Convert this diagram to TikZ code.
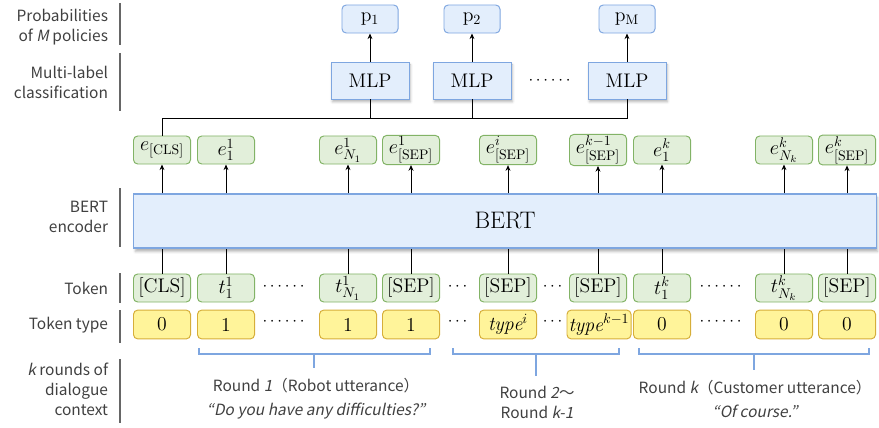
\documentclass[tikz,border=0pt]{standalone}
\usepackage{amsmath}
\usepackage{xcolor}
\usepackage{fontspec}
\usepackage{tikz}
\usetikzlibrary{arrows.meta}
\usetikzlibrary{shadows.blur}
\newfontfamily\labelfont{Noto Sans CJK JP}[ItalicFont=Noto Sans CJK JP, ItalicFeatures={FakeSlant=0.2}]
\definecolor{boxblue}{HTML}{E3EEFC}
\definecolor{lineblue}{HTML}{7EA6E0}
\definecolor{boxgreen}{HTML}{E2EFDA}
\definecolor{linegreen}{HTML}{82B366}
\definecolor{boxyellow}{HTML}{FFF49A}
\definecolor{lineyellow}{HTML}{D6AE3A}
\definecolor{labelgray}{HTML}{404040}

\begin{document}
\begin{tikzpicture}[x=0.025cm, y=-0.025cm,
  gbox/.style={draw=linegreen, fill=boxgreen, line width=0.7pt, rounded corners=3pt, minimum width=1.425cm, minimum height=0.7cm, inner sep=1pt, font=\fontsize{14}{16}\selectfont},
  ybox/.style={draw=lineyellow, fill=boxyellow, line width=0.7pt, rounded corners=3pt, minimum width=1.425cm, minimum height=0.72cm, inner sep=1pt, font=\fontsize{14}{16}\selectfont},
  pbox/.style={draw=lineblue, fill=boxblue, line width=0.7pt, rounded corners=3pt, minimum width=1.4cm, minimum height=0.7cm, font=\fontsize{14}{16}\selectfont},
  mlpbox/.style={draw=lineblue, fill=boxblue, line width=0.7pt, minimum width=1.95cm, minimum height=0.925cm, font=\fontsize{14}{16}\selectfont, blur shadow={shadow xshift=1pt, shadow yshift=-2pt, shadow opacity=30}},
  lbl/.style={anchor=east, align=right, text=labelgray, font=\labelfont\fontsize{11}{14.2}\selectfont},
  rnd/.style={align=center, text=labelgray, font=\labelfont\fontsize{11}{14.2}\selectfont},
  bar/.style={draw=labelgray!80, line width=1pt},
  brk/.style={draw=lineblue, line width=0.8pt},
  wire/.style={line width=0.6pt},
  arr/.style={-{Stealth[length=4pt,width=3.5pt]}, line width=0.6pt}]
  \useasboundingbox (0,0) rectangle (879,427);

  % row titles on the left
  \node[lbl] (lprob) at (113,27) {Probabilities\\of \textit{M} policies};
  \node[lbl] (lmlc) at (113,82) {Multi-label\\classification};
  \node[lbl] (lbert) at (113,217) {BERT\\encoder};
  \node[lbl] (ltok) at (113,288) {Token};
  \node[lbl] (ltype) at (113,325) {Token type};
  \node[lbl] (lctx) at (113,389) {\textit{k} rounds of\\dialogue\\context};
  \draw[bar] (120,3) -- (120,45);
  \draw[bar] (120,53) -- (120,111);
  \draw[bar] (120,188) -- (120,247);
  \draw[bar] (120,273) -- (120,303);
  \draw[bar] (120,310) -- (120,343);
  \draw[bar] (120,359) -- (120,423);

  % policy outputs
  \node[pbox] (p1) at (370,19) {$\mathrm{p}_1$};
  \node[pbox] (p2) at (472,19) {$\mathrm{p}_2$};
  \node[pbox] (pM) at (627,19) {$\mathrm{p}_\mathrm{M}$};
  \node[mlpbox] (mlp1) at (370,80.5) {MLP};
  \node[mlpbox] (mlp2) at (472,80.5) {MLP};
  \node[mlpbox] (mlpM) at (627,80.5) {MLP};
  \node[font=\large] (mdots) at (551,81) {$\cdots\cdots$};

  % encoder
  \node[draw=lineblue, fill=boxblue, line width=0.8pt, minimum width=18.55cm, minimum height=1.35cm, font=\fontsize{17}{20}\selectfont, blur shadow={shadow xshift=1pt, shadow yshift=-2.5pt, shadow opacity=30}] (bert) at (505,221) {BERT};

  % embeddings
  \node[gbox] (ecls) at (162,150) {$e_{\mathrm{[CLS]}}$};
  \node[gbox] (e11) at (226,150) {$e^1_1$};
  \node[gbox] (en1) at (348,150) {$e^1_{N_1}$};
  \node[gbox] (esep1) at (411,150) {$e^1_{\mathrm{[SEP]}}$};
  \node[gbox] (esepi) at (508,150) {$e^i_{\mathrm{[SEP]}}$};
  \node[gbox] (esepk1) at (598,150) {$e^{k-1}_{\mathrm{[SEP]}}$};
  \node[gbox] (e1k) at (662,150) {$e^k_1$};
  \node[gbox] (enk) at (784,150) {$e^k_{N_k}$};
  \node[gbox] (esepk) at (847,150) {$e^k_{\mathrm{[SEP]}}$};

  % tokens
  \node[gbox] (tcls) at (162,288) {[CLS]};
  \node[gbox] (t11) at (226,288) {$t^1_1$};
  \node[gbox] (tn1) at (348,288) {$t^1_{N_1}$};
  \node[gbox] (tsep1) at (411,288) {[SEP]};
  \node[gbox] (tsepi) at (508,288) {[SEP]};
  \node[gbox] (tsepk1) at (598,288) {[SEP]};
  \node[gbox] (t1k) at (662,288) {$t^k_1$};
  \node[gbox] (tnk) at (784,288) {$t^k_{N_k}$};
  \node[gbox] (tsepk) at (847,288) {[SEP]};
  \node[font=\large] (tdots1) at (285,287) {$\cdots\cdots$};
  \node[font=\large] (tdots2) at (459,287) {$\cdots$};
  \node[font=\large] (tdots3) at (554,287) {$\cdots$};
  \node[font=\large] (tdots4) at (722,287) {$\cdots\cdots$};

  % token types
  \node[ybox] (ycls) at (162,324.5) {0};
  \node[ybox] (y11) at (226,324.5) {1};
  \node[ybox] (yn1) at (348,324.5) {1};
  \node[ybox] (ysep1) at (411,324.5) {1};
  \node[ybox] (ysepi) at (508,324.5) {$\mathit{type}^{i}$};
  \node[ybox, minimum width=1.6cm] (ysepk1) at (599,324.5) {$\mathit{type}^{k-1}$};
  \node[ybox] (y1k) at (662,324.5) {0};
  \node[ybox] (ynk) at (784,324.5) {0};
  \node[ybox] (ysepk) at (847,324.5) {0};
  \node[font=\large] (ydots1) at (285,322) {$\cdots\cdots$};
  \node[font=\large] (ydots2) at (459,322) {$\cdots$};
  \node[font=\large] (ydots3) at (554,322) {$\cdots$};
  \node[font=\large] (ydots4) at (722,322) {$\cdots\cdots$};

  % tokens into the encoder, embeddings out of it
  \draw[wire] (tcls) -- (tcls |- bert.south);
  \draw[wire] (t11) -- (t11 |- bert.south);
  \draw[wire] (tn1) -- (tn1 |- bert.south);
  \draw[wire] (tsep1) -- (tsep1 |- bert.south);
  \draw[wire] (tsepi) -- (tsepi |- bert.south);
  \draw[wire] (tsepk1) -- (tsepk1 |- bert.south);
  \draw[wire] (t1k) -- (t1k |- bert.south);
  \draw[wire] (tnk) -- (tnk |- bert.south);
  \draw[wire] (tsepk) -- (tsepk |- bert.south);
  \draw[arr] (ecls |- bert.north) -- (ecls);
  \draw[arr] (e11 |- bert.north) -- (e11);
  \draw[arr] (en1 |- bert.north) -- (en1);
  \draw[arr] (esep1 |- bert.north) -- (esep1);
  \draw[arr] (esepi |- bert.north) -- (esepi);
  \draw[arr] (esepk1 |- bert.north) -- (esepk1);
  \draw[arr] (e1k |- bert.north) -- (e1k);
  \draw[arr] (enk |- bert.north) -- (enk);
  \draw[arr] (esepk |- bert.north) -- (esepk);

  % [CLS] embedding feeds every classifier
  \coordinate (bus) at (0,118);
  \draw[wire] (ecls) -- (ecls |- bus) -- (mlpM.south |- bus) -- (mlpM);
  \draw[wire] (mlp1) -- (mlp1 |- bus);
  \draw[wire] (mlp2) -- (mlp2 |- bus);
  \draw[arr] (mlp1) -- (p1);
  \draw[arr] (mlp2) -- (p2);
  \draw[arr] (mlpM) -- (pM);

  % dialogue rounds
  \draw[brk] (199,348) -- (199,354) -- (430,354) -- (430,348);
  \draw[brk] (314,354) -- (314,368);
  \draw[brk] (453,348) -- (453,354) -- (619,354) -- (619,348);
  \draw[brk] (536,354) -- (536,376);
  \draw[brk] (639,348) -- (639,354) -- (869,354) -- (869,348);
  \draw[brk] (754,354) -- (754,370);
  \node[rnd] (r1) at (316,399) {Round \textit{1}（Robot utterance）\\[3pt]\textit{“Do you have any difficulties?”}};
  \node[rnd] (r2) at (537,402) {Round \textit{2}～\\Round \textit{k-1}};
  \node[rnd] (rk) at (755,399) {Round \textit{k}（Customer utterance）\\[3pt]\textit{“Of course.”}};
\end{tikzpicture}
\end{document}
